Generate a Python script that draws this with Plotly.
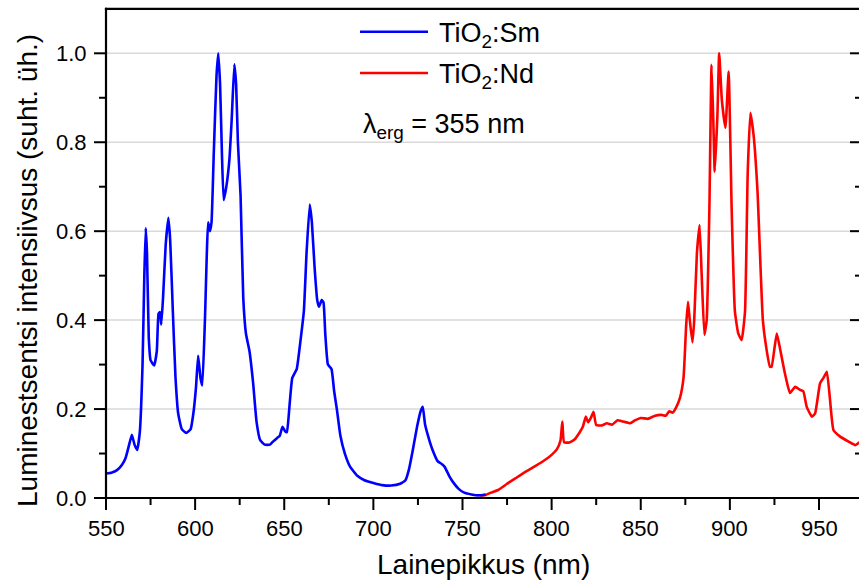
import plotly.graph_objects as go

# TiO2:Sm emission spectrum (wavelength in nm, normalised intensity)
sm_wavelength = [550, 553, 556, 559, 561, 563, 564.5, 566, 567.5, 569, 570.5, 571.5, 572.3, 573,
                 574, 575, 577, 578.5, 579.5, 580.3, 581, 582, 583.5, 585, 586, 587.5, 589, 590.5,
                 592.5, 595, 597.5, 599, 600.5, 601.7, 603, 604, 605.5, 607.3, 608.3, 609.2, 610.5,
                 612, 613, 614, 615, 616, 617.5, 619.2, 620.5, 622, 623, 624, 625.5, 627, 628.5,
                 630.5, 632.5, 634.5, 636.5, 639, 642, 644, 646, 647.5, 649, 650.5, 651.5, 653,
                 654.5, 657, 659, 661, 662.5, 664.3, 665.5, 667, 668.5, 669.5, 671, 672, 673, 674.5,
                 676.5, 678, 679.5, 681.5, 684, 687, 691, 695, 700, 705, 710, 715, 718, 720, 722,
                 724.5, 726.5, 727.7, 729, 731, 733, 736, 738.5, 740, 742.5, 745, 748, 751, 755,
                 759, 763]
sm_intensity = [0.055, 0.057, 0.062, 0.075, 0.09, 0.12, 0.142, 0.12, 0.108, 0.15, 0.3, 0.5, 0.607,
                0.55, 0.36, 0.31, 0.298, 0.33, 0.415, 0.418, 0.39, 0.45, 0.57, 0.63, 0.58, 0.42,
                0.27, 0.19, 0.155, 0.146, 0.155, 0.19, 0.25, 0.32, 0.27, 0.253, 0.4, 0.62, 0.60,
                0.62, 0.78, 0.95, 1.0, 0.93, 0.78, 0.67, 0.70, 0.76, 0.85, 0.975, 0.93, 0.80, 0.68,
                0.45, 0.37, 0.33, 0.26, 0.17, 0.13, 0.12, 0.12, 0.128, 0.135, 0.14, 0.16, 0.15,
                0.148, 0.21, 0.27, 0.29, 0.35, 0.42, 0.55, 0.66, 0.62, 0.52, 0.445, 0.43, 0.445,
                0.44, 0.37, 0.30, 0.29, 0.24, 0.2, 0.14, 0.1, 0.07, 0.05, 0.04, 0.034, 0.029, 0.028,
                0.032, 0.04, 0.065, 0.105, 0.16, 0.195, 0.205, 0.165, 0.135, 0.11, 0.083, 0.076,
                0.07, 0.05, 0.034, 0.02, 0.012, 0.008, 0.006, 0.008]

# TiO2:Nd emission spectrum
nd_wavelength = [760, 763, 766, 770, 775, 780, 785, 790, 795, 800, 803, 805, 806, 807, 810, 813,
                 815.5, 817.5, 819.2, 820.5, 822, 823.5, 825, 828, 831, 834, 837, 840, 844, 847,
                 850, 854, 858, 861.5, 864, 866, 868, 870, 872, 874, 875.5, 876.5, 877.5, 879, 880,
                 881.5, 883, 884.2, 885.7, 887, 888.5, 889.7, 890.7, 891.5, 893, 894, 895.5, 897.5,
                 899.3, 901, 902.8, 904.7, 906.6, 908.5, 910, 911.5, 913.3, 915.5, 918.5, 920.6,
                 922.5, 923.4, 926.3, 928.1, 930.9, 933.7, 936.6, 939.4, 941.2, 943.1, 946, 947.8,
                 950.6, 952.5, 954.4, 956.2, 958.1, 961.9, 966.6, 970.4, 973.2]
nd_intensity = [0.005, 0.007, 0.012, 0.018, 0.032, 0.045, 0.058, 0.07, 0.082, 0.097, 0.11, 0.13,
                0.172, 0.125, 0.125, 0.132, 0.146, 0.16, 0.183, 0.17, 0.18, 0.194, 0.164, 0.163,
                0.168, 0.165, 0.175, 0.172, 0.168, 0.175, 0.18, 0.178, 0.185, 0.187, 0.185, 0.195,
                0.192, 0.205, 0.225, 0.27, 0.39, 0.441, 0.40, 0.35, 0.40, 0.55, 0.614, 0.50, 0.367,
                0.40, 0.65, 0.974, 0.85, 0.734, 0.86, 1.0, 0.895, 0.832, 0.959, 0.65, 0.42, 0.37,
                0.355, 0.42, 0.73, 0.866, 0.816, 0.69, 0.40, 0.333, 0.295, 0.295, 0.37, 0.337, 0.28,
                0.236, 0.25, 0.243, 0.24, 0.205, 0.183, 0.19, 0.258, 0.27, 0.284, 0.22, 0.153,
                0.138, 0.127, 0.119, 0.127]

# Axis ticks and labels
x_major = [550, 600, 650, 700, 750, 800, 850, 900, 950]
x_minor = [575, 625, 675, 725, 775, 825, 875, 925]
y_major = [0.0, 0.2, 0.4, 0.6, 0.8, 1.0]
y_minor = [0.1, 0.3, 0.5, 0.7, 0.9]
x_title = "Lainepikkus (nm)"
y_title = "Luminestsentsi intensiivsus (suht. üh.)"

FONT = "Liberation Sans, Arial, sans-serif"
SM_COLOR = "#0000ff"
ND_COLOR = "#ff0000"
W, H = 859, 586

# Frame geometry: the data frame starts at 550 nm / 0.0 and its top edge is at 1.1;
# the drawing area covers the whole figure so that the outward ticks stay inside it.
X0, Y0, Y_TOP = 550, 0.0, 1.1
FRAME_LEFT_PX, FRAME_BOTTOM_PX = 106, 498
PX_PER_NM = 1.7825
PX_PER_UNIT = 444.7
x_range = [X0 - FRAME_LEFT_PX / PX_PER_NM, X0 + (W - FRAME_LEFT_PX) / PX_PER_NM]
y_range = [Y0 - (H - FRAME_BOTTOM_PX) / PX_PER_UNIT, Y0 + FRAME_BOTTOM_PX / PX_PER_UNIT]


def dx(px):
    return px / PX_PER_NM


def dy(px):
    return px / PX_PER_UNIT


fig = go.Figure()
fig.add_trace(go.Scatter(x=nd_wavelength, y=nd_intensity, mode="lines", name="TiO<sub>2</sub>:Nd",
                         line=dict(color=ND_COLOR, width=2.6, shape="spline", smoothing=0.4),
                         showlegend=False))
fig.add_trace(go.Scatter(x=sm_wavelength, y=sm_intensity, mode="lines", name="TiO<sub>2</sub>:Sm",
                         line=dict(color=SM_COLOR, width=2.6, shape="spline", smoothing=0.4),
                         showlegend=False))

shapes = []
annotations = []
frame = dict(color="black", width=2.2)
tick = dict(color="black", width=2)
x_end = x_range[1]

# Horizontal gridlines
for v in y_major[1:]:
    shapes.append(dict(type="line", xref="x", yref="y", x0=X0, x1=x_end, y0=v, y1=v,
                       line=dict(color="#d9d9d9", width=1.5), layer="below"))

# Frame: left axis, bottom axis, top edge
shapes.append(dict(type="line", xref="x", yref="y", x0=X0, x1=X0, y0=Y0 - dy(1.1), y1=Y_TOP + dy(1.1),
                   line=frame))
shapes.append(dict(type="line", xref="x", yref="y", x0=X0 - dx(1.1), x1=x_end, y0=Y0, y1=Y0,
                   line=frame))
shapes.append(dict(type="line", xref="x", yref="y", x0=X0 - dx(1.1), x1=x_end, y0=Y_TOP, y1=Y_TOP,
                   line=frame))

# Outward ticks on bottom and left, inward ticks along the right edge
for vals, length in [(x_major, 12), (x_minor, 7)]:
    for v in vals:
        shapes.append(dict(type="line", xref="x", yref="y", x0=v, x1=v, y0=Y0, y1=Y0 - dy(length),
                           line=tick))
for vals, length in [(y_major, 12), (y_minor, 7)]:
    for v in vals:
        shapes.append(dict(type="line", xref="x", yref="y", x0=X0, x1=X0 - dx(length), y0=v, y1=v,
                           line=tick))
for vals, length in [(y_major, 9), (y_minor, 4)]:
    for v in vals:
        shapes.append(dict(type="line", xref="x", yref="y", x0=x_end - dx(length), x1=x_end,
                           y0=v, y1=v, line=tick))

# Tick labels
for v in x_major:
    annotations.append(dict(text=str(v), xref="x", yref="y", x=v, y=Y0, yshift=-30,
                            xanchor="center", yanchor="middle", showarrow=False,
                            font=dict(family=FONT, size=22, color="black")))
for v in y_major:
    annotations.append(dict(text=f"{v:.1f}", xref="x", yref="y", x=X0, y=v, xshift=-17,
                            xanchor="right", yanchor="middle", showarrow=False,
                            font=dict(family=FONT, size=22, color="black")))

# Axis titles
annotations.append(dict(text=x_title, xref="paper", yref="paper", x=483.5 / W, y=1 - 564 / H,
                        xanchor="center", yanchor="middle", showarrow=False,
                        font=dict(family=FONT, size=28, color="black")))
annotations.append(dict(text=y_title, xref="paper", yref="paper", x=27 / W, y=1 - 271 / H,
                        xanchor="center", yanchor="middle", textangle=-90, showarrow=False,
                        font=dict(family=FONT, size=28, color="black")))

# Legend drawn as sample lines plus labels inside the frame
legend_items = [("TiO<sub>2</sub>:Sm", SM_COLOR, 1 - 31.7 / H), ("TiO<sub>2</sub>:Nd", ND_COLOR, 1 - 73 / H)]
for label, color, ypos in legend_items:
    shapes.append(dict(type="line", xref="paper", yref="paper", x0=360 / W, x1=428 / W,
                       y0=ypos, y1=ypos, line=dict(color=color, width=2.6)))
    annotations.append(dict(text=label, xref="paper", yref="paper", x=437 / W, y=ypos - 3 / H,
                            xanchor="left", yanchor="middle", showarrow=False,
                            font=dict(family=FONT, size=27, color="black")))
annotations.append(dict(text="λ<sub>erg</sub> = 355 nm", xref="paper", yref="paper",
                        x=360.5 / W, y=1 - 126.5 / H, xanchor="left", yanchor="middle",
                        showarrow=False, font=dict(family=FONT, size=27, color="black")))

fig.update_layout(
    width=W, height=H,
    margin=dict(l=0, r=0, t=0, b=0),
    paper_bgcolor="white", plot_bgcolor="white",
    font=dict(family=FONT, color="black"),
    shapes=shapes, annotations=annotations,
    xaxis=dict(range=x_range, visible=False),
    yaxis=dict(range=y_range, visible=False),
)

fig.write_html("out.html", config={"staticPlot": True})
